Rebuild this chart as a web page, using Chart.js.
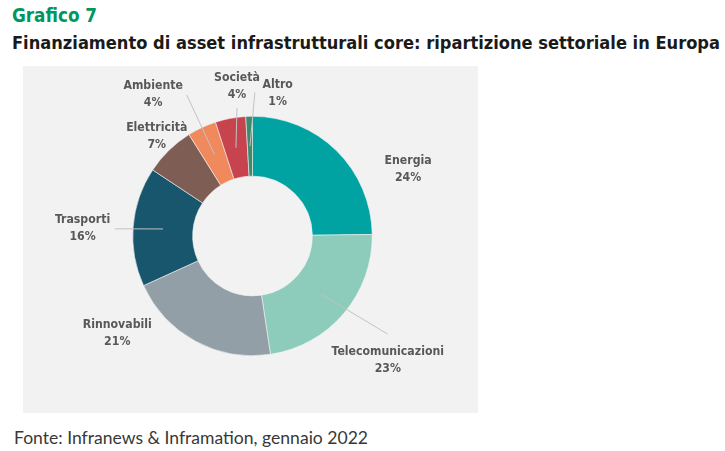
<!DOCTYPE html>
<html lang="it">
<head>
<meta charset="utf-8">
<title>Grafico 7</title>
<script src="https://cdn.jsdelivr.net/npm/chart.js@4/dist/chart.umd.min.js"></script>
<style>
  html,body{margin:0;padding:0;background:#fff;}
  body{width:725px;height:451px;position:relative;overflow:hidden;font-family:"DejaVu Sans Condensed","DejaVu Sans",sans-serif;}
  .fit{position:absolute;white-space:nowrap;transform-origin:0 0;}
  #kicker{left:12px;top:4px;font-size:19px;font-weight:bold;color:#00965e;}
  #title{left:12px;top:32px;font-size:18px;font-weight:bold;color:#1a1a1a;}
  #panel{position:absolute;left:23px;top:66px;width:455px;height:347px;background:#f2f2f2;}
  #source{left:14px;top:426px;font-size:18px;color:#383838;font-family:Lato,"Open Sans",sans-serif;}
</style>
</head>
<body>
<div id="kicker" class="fit" data-w="85">Grafico 7</div>
<div id="title" class="fit" data-w="708">Finanziamento di asset infrastrutturali core: ripartizione settoriale in Europa</div>
<div id="panel"><canvas id="pie" width="455" height="347"></canvas></div>
<div id="source" class="fit" data-w="354">Fonte: Infranews &amp; Inframation, gennaio 2022</div>
<script>
const sectors = ['Energia','Telecomunicazioni','Rinnovabili','Trasporti','Elettricità','Ambiente','Società','Altro'];
const shares  = [24.8, 22.8, 20.6, 16.1, 6.8, 3.9, 4.1, 0.9];
const printed = ['24%','23%','21%','16%','7%','4%','4%','1%'];
const colors  = ['#00a3a1','#8dcbbb','#929fa6','#17566c','#7e5d55','#f08a5d','#c7444f','#3b8c6e'];

// larghezza dei testi come nell'originale
document.querySelectorAll('.fit').forEach(el=>{
  const w = el.getBoundingClientRect().width;
  el.style.transform = `scaleX(${el.dataset.w / w})`;
});

// posizione etichette rispetto al centro, in unità di raggio esterno; leader = fine del tratto (null = niente)
const labelPos = [
  {x: 1.30, y:-0.56, leader:null},
  {x: 1.13, y: 1.04, leader:[1.13, 0.82]},
  {x:-1.13, y: 0.81, leader:null},
  {x:-1.42, y:-0.06, leader:[-1.15,-0.06]},
  {x:-0.80, y:-0.83, leader:null},
  {x:-0.83, y:-1.18, leader:[-0.55,-1.18]},
  {x:-0.13, y:-1.25, leader:[-0.13,-1.07]},
  {x: 0.21, y:-1.19, leader:[ 0.02,-1.20]},
];

const outsideLabels = {
  id:'outsideLabels',
  afterDatasetsDraw(chart){
    const ctx = chart.ctx;
    const meta = chart.getDatasetMeta(0);
    ctx.save();
    meta.data.forEach((arc,i)=>{
      const {x:cx, y:cy, outerRadius:R} = arc.getProps(['x','y','outerRadius'], true);
      const p = labelPos[i];
      if (p.leader){
        const m = arc.tooltipPosition(true);
        ctx.beginPath();
        ctx.strokeStyle = '#c2c2c2';
        ctx.lineWidth = 1;
        ctx.moveTo(m.x, m.y);
        ctx.lineTo(cx + p.leader[0]*R, cy + p.leader[1]*R);
        ctx.stroke();
      }
      const lx = cx + p.x*R, ly = cy + p.y*R;
      ctx.fillStyle = '#585858';
      ctx.font = 'bold 12.2px "DejaVu Sans Condensed","DejaVu Sans",sans-serif';
      ctx.textAlign = 'center';
      ctx.textBaseline = 'middle';
      ctx.fillText(chart.data.labels[i], lx, ly - 8.5);
      ctx.fillText(printed[i], lx, ly + 8.5);
    });
    ctx.restore();
  }
};

new Chart(document.getElementById('pie'), {
  type:'doughnut',
  data:{
    labels: sectors,
    datasets:[{
      data: shares,
      backgroundColor: colors,
      borderColor:'#f2f2f2',
      borderWidth:0.6,
    }]
  },
  plugins:[outsideLabels],
  options:{
    responsive:false,
    animation:false,
    cutout:'50%',
    layout:{padding:{top:50,bottom:57,left:4,right:0}},
    plugins:{legend:{display:false}, tooltip:{enabled:false}}
  }
});
</script>
</body>
</html>
